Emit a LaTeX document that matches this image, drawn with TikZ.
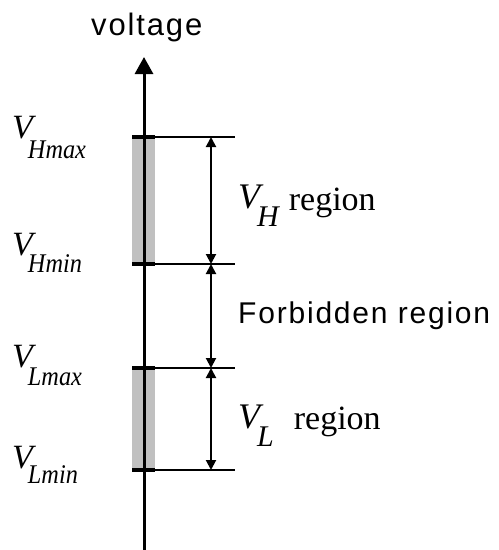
\documentclass[tikz,border=0pt]{standalone}
\usepackage{fontspec}
\setmainfont{Liberation Serif}
\newfontfamily\sansf[LetterSpace=6]{Liberation Sans}
\usetikzlibrary{arrows.meta}
\newcommand{\fs}[1]{\fontsize{#1}{#1}\selectfont}
\newcommand{\lvl}[2]{{\fs{34}\itshape V}\hspace{-5pt}\raisebox{-#2pt}{\scalebox{0.9}[1]{\fs{27}\itshape #1}}}
\tikzset{
  lab/.style={inner sep=0pt, anchor=base west},
  level/.style={line width=2pt},
  stub/.style={line width=4pt},
  dim/.style={line width=2pt, {Triangle[width=10pt,length=10pt]}-{Triangle[width=10pt,length=10pt]}},
  band/.style={fill={rgb,255:red,192;green,192;blue,192}, draw=none},
  axis/.style={line width=3pt, -{Triangle[width=18pt,length=17pt]}}
}
\begin{document}
\begin{tikzpicture}[x=1pt,y=-1pt]
\useasboundingbox (0,0) rectangle (499,550);
% levels
\coordinate (hmaxL) at (132,137); \coordinate (hmaxR) at (235,137);
\coordinate (hminL) at (132,264); \coordinate (hminR) at (235,264);
\coordinate (lmaxL) at (132,368); \coordinate (lmaxR) at (235,368);
\coordinate (lminL) at (132,470); \coordinate (lminR) at (235,470);
\coordinate (hmaxA) at (211,137); \coordinate (hminA) at (211,264);
\coordinate (lmaxA) at (211,368); \coordinate (lminA) at (211,470);
% gray bands
\fill[band] (132,137) rectangle (155,264);
\fill[band] (132,368) rectangle (155,470);
% axis
\coordinate (axb) at (144,550); \coordinate (axt) at (144,57);
\draw[axis] (axb) -- (axt);
% level lines
\foreach \a/\b in {hmaxL/hmaxR, hminL/hminR, lmaxL/lmaxR, lminL/lminR}{
  \draw[level] (\a) -- (\b);
  \draw[stub] (\a) -- ++(23,0);
}
% dimension arrows
\draw[dim] (hmaxA) -- (hminA);
\draw[dim] (hminA) -- (lmaxA);
\draw[dim] (lmaxA) -- (lminA);
% labels
\node[lab] (volt) at (91,35) {\sansf\fs{31}voltage};
\node[lab] (vhmax) at (12,138) {\lvl{Hmax}{20}};
\node[lab] (vhmin) at (12,255) {\lvl{Hmin}{17}};
\node[lab] (vlmax) at (12,367) {\lvl{Lmax}{18}};
\node[lab] (vlmin) at (12,468) {\lvl{Lmin}{15}};
\node[lab] (vhreg) at (238,208) {{\fs{36}\itshape V}\hspace{-3pt}\raisebox{-18pt}{\fs{30}\itshape H}\hspace{10pt}\raisebox{-2pt}{\fs{34}region}};
\node[lab] (forb) at (238,323) {\sansf\fs{30}Forbidden region};
\node[lab] (vlreg) at (238,428) {{\fs{36}\itshape V}\hspace{-3pt}\raisebox{-18pt}{\fs{30}\itshape L}\hspace{20pt}\raisebox{-1pt}{\fs{34}region}};
\end{tikzpicture}
\end{document}
